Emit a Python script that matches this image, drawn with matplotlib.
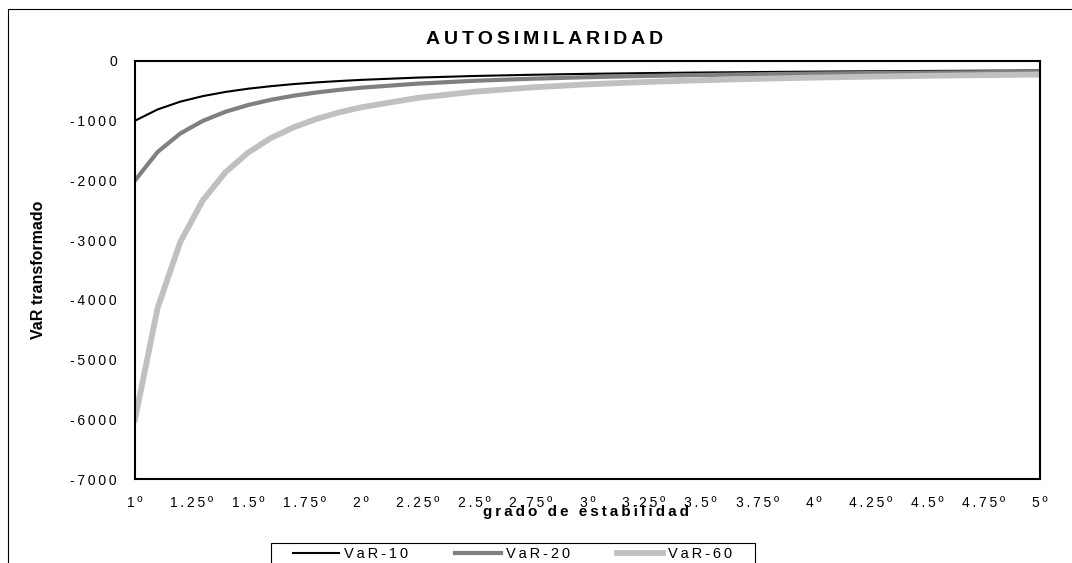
import matplotlib
matplotlib.use('Agg')
import matplotlib.pyplot as plt
from matplotlib.patches import Rectangle

plt.rcParams['font.family'] = ['Liberation Sans', 'DejaVu Sans']

# grado de estabilidad (alpha) and transformed VaR for each horizon
grado = [1.0, 1.1, 1.2, 1.3, 1.4, 1.5, 1.6, 1.7, 1.8, 1.9, 2.0,
         2.25, 2.5, 2.75, 3.0, 3.25, 3.5, 3.75, 4.0, 4.25, 4.5, 4.75, 5.0]
var10 = [-1000, -811, -681, -588, -518, -464, -422, -387, -359, -336, -316,
         -278, -251, -231, -215, -203, -193, -185, -178, -172, -167, -162, -158]
var20 = [-2000, -1523, -1214, -1002, -850, -737, -650, -582, -528, -484, -447,
         -379, -331, -297, -271, -251, -235, -222, -211, -202, -195, -188, -182]
var60 = [-6000, -4135, -3032, -2332, -1863, -1533, -1292, -1112, -973, -863, -775,
         -617, -514, -443, -391, -352, -322, -298, -278, -262, -248, -237, -227]

xticks = [1.0, 1.25, 1.5, 1.75, 2.0, 2.25, 2.5, 2.75, 3.0,
          3.25, 3.5, 3.75, 4.0, 4.25, 4.5, 4.75, 5.0]
xlabels = ['1º', '1.25º', '1.5º', '1.75º', '2º', '2.25º', '2.5º', '2.75º', '3º',
           '3.25º', '3.5º', '3.75º', '4º', '4.25º', '4.5º', '4.75º', '5º']
yticks = [0, -1000, -2000, -3000, -4000, -5000, -6000, -7000]


def sp(s):
    # wide tracking like the old spreadsheet fonts
    return '\u2009'.join(s)


W, H = 1072, 563
fig = plt.figure(figsize=(W / 100, H / 100), dpi=100)
ax = fig.add_axes([135 / W, 1 - 479 / H, (1040 - 135) / W, (479 - 61) / H])

ax.plot(grado, var10, color='black', lw=1.5, label=sp('VaR-10'))
ax.plot(grado, var20, color='#808080', lw=3, label=sp('VaR-20'))
ax.plot(grado, var60, color='#c0c0c0', lw=4.2, label=sp('VaR-60'))

ax.set_xlim(1, 5)
ax.set_ylim(-7000, 0)
ax.set_xticks(xticks)
ax.set_xticklabels([sp(t) for t in xlabels])
ax.set_yticks(yticks)
ax.set_yticklabels([sp(str(v)) for v in yticks])
ax.tick_params(length=0, labelsize=10)
ax.tick_params(axis='y', pad=13)
ax.tick_params(axis='x', pad=12)
for s in ax.spines.values():
    s.set_linewidth(1.5)

fig.text(545 / W, 1 - 39 / H, sp('AUTOSIMILARIDAD'), ha='center', va='center',
         fontsize=14, fontweight='bold')
fig.text(39 / W, 1 - 270 / H, 'VaR transformado', ha='center', va='center',
         rotation=90, fontsize=11.5, fontweight='bold')
fig.text(586 / W, 1 - 512 / H, sp('grado de estabilidad'), ha='center', va='center',
         fontsize=11, fontweight='bold')

leg = fig.legend(loc='upper left', bbox_to_anchor=(293 / W, 1 - 547 / H), ncol=3,
                 fontsize=10.5, frameon=False, handlelength=3.15,
                 handletextpad=0.35, columnspacing=3.2,
                 borderaxespad=0, borderpad=0)

# legend frame and outer chart frame, both run off the bottom edge
fig.patches.append(Rectangle((271 / W, -0.1), (755 - 271) / W, 0.1 + 1 - 543 / H,
                             transform=fig.transFigure, fill=False,
                             edgecolor='black', lw=0.8))
fig.patches.append(Rectangle((8 / W, -0.2), 2, 1.2 - 9 / H, transform=fig.transFigure,
                             fill=False, edgecolor='black', lw=0.8))

fig.savefig('out.png', dpi=100)
